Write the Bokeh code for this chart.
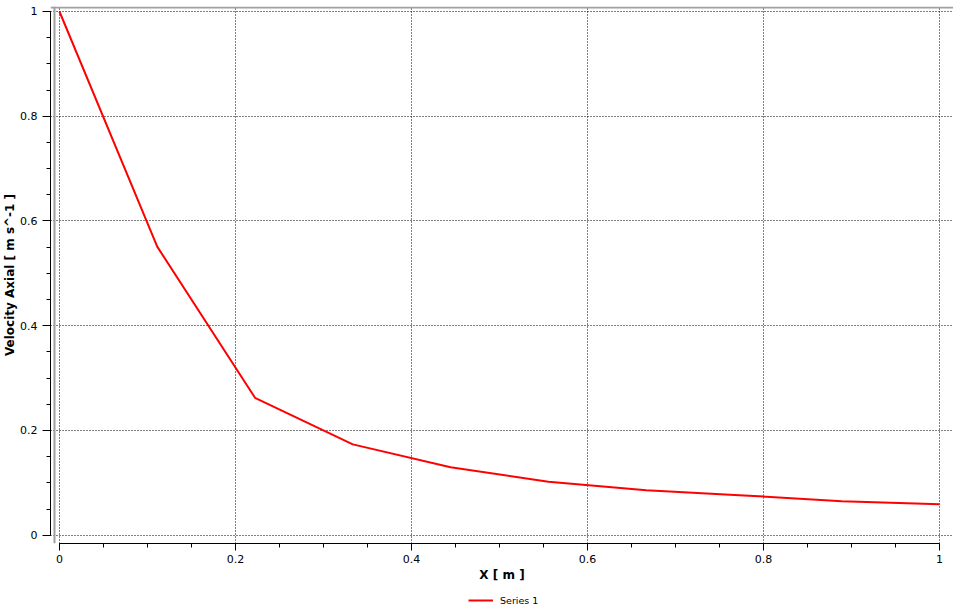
import numpy as np
from bokeh.plotting import figure
from bokeh.layouts import column
from bokeh.models import Range1d, FixedTicker, Span, Legend, LegendItem
from bokeh.embed import file_html
from bokeh.resources import INLINE

# ---- data ----
x_m = [0.0, 0.1111, 0.2222, 0.3333, 0.4444, 0.5556, 0.6667, 0.7778, 0.8889, 1.0]
velocity_axial = [1.0, 0.551, 0.2624, 0.1734, 0.1296, 0.1023, 0.0858, 0.0760, 0.0650, 0.0590]
series_name = "Series 1"

x_ticks = [0.0, 0.2, 0.4, 0.6, 0.8, 1.0]
x_tick_labels = ["0", "0.2", "0.4", "0.6", "0.8", "1"]
y_ticks = [0.0, 0.2, 0.4, 0.6, 0.8, 1.0]
y_tick_labels = ["0", "0.2", "0.4", "0.6", "0.8", "1"]
minor_step = 0.05

x_title = "X [ m ]"
y_title = "Velocity Axial [ m s^-1 ]"

LINE_COLOR = "#ff0000"
LINE_WIDTH = 2

# ---- main figure ----
x_range = Range1d(-0.01017, 1.01582)
y_range = Range1d(-0.01582, 1.00953)

p = figure(width=953, height=584,
           x_range=x_range, y_range=y_range,
           output_backend="svg", toolbar_location=None,
           min_border_left=45, min_border_right=0,
           min_border_top=6, min_border_bottom=40)
p.outline_line_color = None
p.background_fill_color = "white"
p.border_fill_color = "white"

minor = [round(v, 4) for v in np.arange(0.0, 1.0 + 1e-9, minor_step)]
p.xaxis.ticker = FixedTicker(ticks=x_ticks, minor_ticks=minor)
p.yaxis.ticker = FixedTicker(ticks=y_ticks, minor_ticks=minor)
p.xaxis.major_label_overrides = {t: s for t, s in zip(x_ticks, x_tick_labels)}
p.yaxis.major_label_overrides = {t: s for t, s in zip(y_ticks, y_tick_labels)}

for ax in (p.xaxis, p.yaxis):
    ax.bounds = (0, 1)
    ax.axis_line_color = "black"
    ax.axis_line_width = 1
    ax.major_tick_line_color = "black"
    ax.minor_tick_line_color = "black"
    ax.major_tick_in = 0
    ax.minor_tick_in = 0
    ax.minor_tick_out = 4
    ax.major_label_text_font = "DejaVu Sans"
    ax.major_label_text_font_size = "11px"
    ax.major_label_text_color = "#000000"
    ax.axis_label_text_font = "DejaVu Sans"
    ax.axis_label_text_font_size = "12px"
    ax.axis_label_text_font_style = "bold"
    ax.axis_label_text_color = "#000000"

p.xaxis.major_tick_out = 7
p.xaxis.major_label_standoff = 4
p.xaxis.axis_label_standoff = 2
p.yaxis.major_tick_out = 8
p.yaxis.major_label_standoff = 5
p.yaxis.axis_label_standoff = 0
p.xaxis.axis_label = x_title
p.yaxis.axis_label = y_title

for g in (p.xgrid, p.ygrid):
    g.grid_line_color = "black"
    g.grid_line_width = 1
    g.grid_line_dash = "1 2"
    g.grid_line_alpha = 1.0

# gray plot-area border (top and left only)
p.add_layout(Span(location=-0.00565, dimension="height",
                  line_color="#a0a0a0", line_width=2))
p.add_layout(Span(location=1.00953 - 1.0 / 524.7, dimension="width",
                  line_color="#a0a0a0", line_width=2))

r = p.line(x_m, velocity_axial, line_color=LINE_COLOR, line_width=LINE_WIDTH)

# ---- legend strip below the chart ----
leg = figure(width=953, height=24, output_backend="svg", toolbar_location=None,
             x_axis_type=None, y_axis_type=None,
             x_range=Range1d(0, 1), y_range=Range1d(0, 1),
             min_border_left=45, min_border_right=0,
             min_border_top=0, min_border_bottom=0)
leg.outline_line_color = None
leg.xgrid.visible = False
leg.ygrid.visible = False
# legend handle only (no visible mark): same style as the data line
handle = leg.line(x=[float("nan")], y=[float("nan")],
                  line_color=LINE_COLOR, line_width=LINE_WIDTH)

legend = Legend(items=[LegendItem(label=series_name, renderers=[handle])],
                orientation="horizontal", location=(418, 2))
legend.border_line_color = None
legend.background_fill_alpha = 0
legend.label_text_font = "DejaVu Sans"
legend.label_text_font_size = "9.5px"
legend.label_text_color = "#000000"
legend.glyph_width = 25
legend.glyph_height = 12
legend.label_height = 12
legend.label_standoff = 7
legend.padding = 2
legend.margin = 0
leg.add_layout(legend)

layout = column(p, leg, spacing=0)
open("out.html", "w").write(file_html(layout, INLINE))
